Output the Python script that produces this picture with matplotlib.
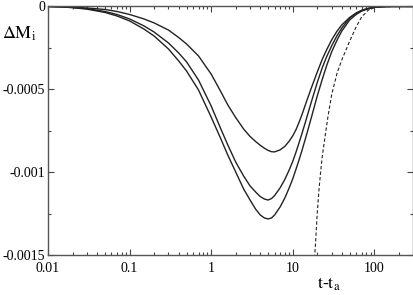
import matplotlib
matplotlib.use('Agg')
import matplotlib.pyplot as plt
from matplotlib.ticker import FixedLocator, LogLocator, MultipleLocator, NullFormatter

plt.rcParams['font.family'] = ['Liberation Serif', 'DejaVu Serif']
plt.rcParams['mathtext.fontset'] = 'stix'

# time grid (t - t_a) for the three solid curves
t = [0.01, 0.015, 0.02, 0.03, 0.05, 0.07, 0.1, 0.15, 0.2, 0.3,
     0.4, 0.5, 0.7, 1, 1.3, 1.6, 2, 2.5, 3, 3.5,
     4, 4.5, 5, 5.5, 6, 7, 8, 9, 10, 11,
     12, 13, 15, 17, 20, 23, 26, 30, 35, 40,
     50, 60, 70, 85, 100, 130, 170, 300]

dm_a = [0, -2e-6, -4e-6, -9e-6, -18e-6, -30e-6, -48e-6, -75e-6, -99e-6, -142e-6,
        -187e-6, -226e-6, -298e-6, -407e-6, -509e-6, -593e-6, -669e-6, -738e-6, -783e-6, -813e-6,
        -836e-6, -854e-6, -867e-6, -875e-6, -876e-6, -864e-6, -843e-6, -813e-6, -780e-6, -741e-6,
        -696e-6, -651e-6, -563e-6, -488e-6, -395e-6, -319e-6, -262e-6, -202e-6, -148e-6, -111e-6,
        -66e-6, -39e-6, -23e-6, -11e-6, -5e-6, -1e-6, 0, 0]

dm_b = [0, -2e-6, -6e-6, -13e-6, -30e-6, -48e-6, -75e-6, -117e-6, -154e-6, -220e-6,
        -280e-6, -334e-6, -443e-6, -599e-6, -732e-6, -834e-6, -937e-6, -1021e-6, -1081e-6, -1117e-6,
        -1145e-6, -1160e-6, -1166e-6, -1157e-6, -1139e-6, -1093e-6, -1042e-6, -988e-6, -934e-6, -876e-6,
        -819e-6, -765e-6, -663e-6, -572e-6, -458e-6, -370e-6, -304e-6, -238e-6, -175e-6, -130e-6,
        -69e-6, -41e-6, -24e-6, -11e-6, -5e-6, -1e-6, 0, 0]

dm_c = [0, -3e-6, -7e-6, -16e-6, -36e-6, -57e-6, -87e-6, -136e-6, -178e-6, -256e-6,
        -328e-6, -389e-6, -503e-6, -666e-6, -792e-6, -895e-6, -997e-6, -1099e-6, -1166e-6, -1220e-6,
        -1256e-6, -1274e-6, -1280e-6, -1274e-6, -1256e-6, -1208e-6, -1154e-6, -1096e-6, -1039e-6, -979e-6,
        -922e-6, -867e-6, -762e-6, -666e-6, -539e-6, -440e-6, -358e-6, -274e-6, -202e-6, -148e-6,
        -81e-6, -48e-6, -28e-6, -13e-6, -5e-6, -1e-6, 0, 0]

# dashed curve
t_d = [18.5, 19, 20, 21, 22, 23, 25, 27, 30, 35,
       40, 45, 50, 60, 70, 85, 100, 130, 170, 300]
dm_d = [-1515e-6, -1437e-6, -1244e-6, -1105e-6, -997e-6, -907e-6, -780e-6, -666e-6, -533e-6, -401e-6,
        -322e-6, -262e-6, -208e-6, -123e-6, -63e-6, -21e-6, -6e-6, -1e-6, 0, 0]

xticks = [0.01, 0.1, 1, 10, 100]
xlabels = ['0.01', '0.1', '1', '10', '100']
yticks = [0, -0.0005, -0.001, -0.0015]
ylabels = ['0', '-0.0005', '-0.001', '-0.0015']

fig = plt.figure(figsize=(4.14, 2.95), dpi=100)
ax = fig.add_axes([0.116, 0.134, 0.882, 0.844])

lc = '#222222'
for dm in (dm_a, dm_b, dm_c):
    ax.plot(t, dm, color=lc, lw=1.0)
ax.plot(t_d, dm_d, color=lc, lw=0.8, ls=(0, (3, 2)))

ax.set_xscale('log')
ax.set_xlim(0.01, 300)
ax.set_ylim(-0.0015, 0)

ax.xaxis.set_major_locator(FixedLocator(xticks))
ax.set_xticklabels(xlabels)
ax.xaxis.set_minor_locator(LogLocator(base=10, subs=range(2, 10)))
ax.xaxis.set_minor_formatter(NullFormatter())
ax.yaxis.set_major_locator(FixedLocator(yticks))
ax.set_yticklabels(ylabels)
ax.yaxis.set_minor_locator(MultipleLocator(0.00025))

ax.tick_params(which='both', direction='in', top=True, right=True,
               labelsize=10, colors='#444444', labelcolor='black')
ax.tick_params(which='major', length=4.5, width=0.8)
ax.tick_params(which='minor', length=2.5, width=0.8)
ax.tick_params(axis='x', pad=4.5)
ax.tick_params(axis='y', pad=2)
for s in ax.spines.values():
    s.set_color('#555555')
    s.set_linewidth(1.0)

fig.text(0.005, 0.87, r'$\Delta\mathrm{M}_\mathrm{i}$', fontsize=13)
fig.text(0.765, 0.022, r'$\mathrm{t}$-$\mathrm{t}_\mathrm{a}$', fontsize=13)

fig.savefig('out.png', dpi=100)
